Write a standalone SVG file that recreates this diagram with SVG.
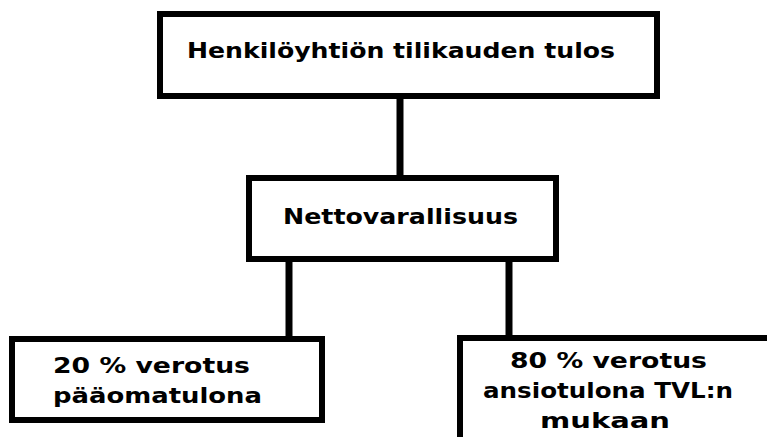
<svg xmlns="http://www.w3.org/2000/svg" width="767" height="437" viewBox="0 0 767 437">
<style>
.box{fill:#fff;stroke:#000;stroke-width:6}
.con{stroke:#000;stroke-width:7;fill:none}
.t{font-family:"DejaVu Sans",Verdana,sans-serif;font-weight:bold;font-size:21px;fill:#000}
</style>
<rect width="767" height="437" fill="#fff"/>
<g id="connectors">
<line class="con" x1="400" y1="96" x2="400" y2="178"/>
<line class="con" x1="289" y1="259" x2="289" y2="339"/>
<line class="con" x1="509" y1="259" x2="509" y2="338"/>
</g>
<g id="n1">
<rect class="box" x="160" y="14" width="497" height="82"/>
<text class="t" x="187" y="58" textLength="428" lengthAdjust="spacingAndGlyphs">Henkilöyhtiön tilikauden tulos</text>
</g>
<g id="n2">
<rect class="box" x="249" y="178" width="307" height="81"/>
<text class="t" x="283" y="224" textLength="235" lengthAdjust="spacingAndGlyphs">Nettovarallisuus</text>
</g>
<g id="n3">
<rect class="box" x="12" y="339" width="310" height="81"/>
<text class="t" x="53" y="373" textLength="197" lengthAdjust="spacingAndGlyphs">20 % verotus</text>
<text class="t" x="53" y="403" textLength="209" lengthAdjust="spacingAndGlyphs">pääomatulona</text>
</g>
<g id="n4">
<rect class="box" x="460" y="338" width="400" height="200"/>
<text class="t" x="510" y="368" textLength="197" lengthAdjust="spacingAndGlyphs">80 % verotus</text>
<text class="t" x="483" y="398" textLength="250" lengthAdjust="spacingAndGlyphs">ansiotulona TVL:n</text>
<text class="t" x="540" y="428" textLength="130" lengthAdjust="spacingAndGlyphs">mukaan</text>
</g>
</svg>
